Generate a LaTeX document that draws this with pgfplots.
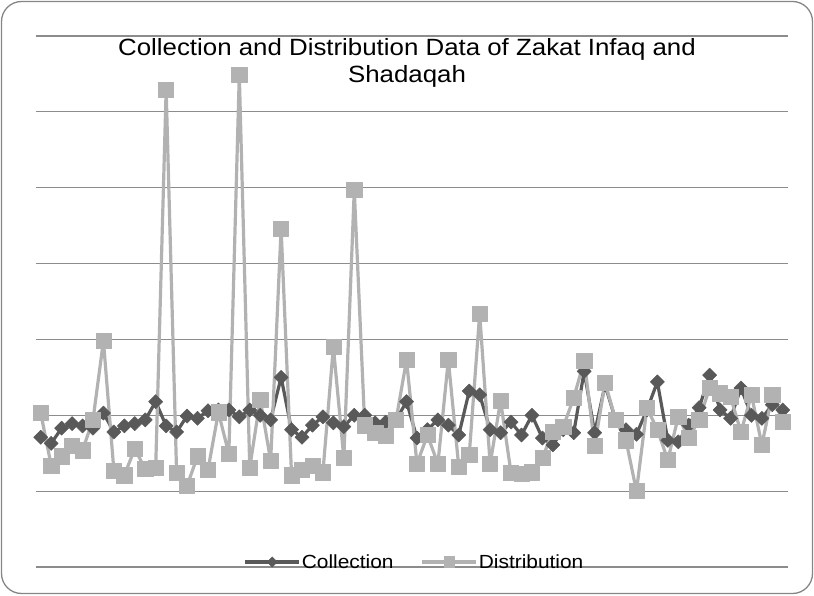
\documentclass[border=0pt]{standalone}
\usepackage{fontspec}
\setmainfont{Liberation Sans}[FakeStretch=1.1]
\usepackage{pgfplots}
\usepackage{pgfplotstable}
\pgfplotsset{compat=1.18}

\definecolor{collect}{RGB}{89,89,89}
\definecolor{distrib}{RGB}{178,178,178}
\definecolor{gridc}{RGB}{140,140,140}
\definecolor{framec}{RGB}{134,134,134}

% grid step = 1 unit, 7 steps (no tick labels in the original)
\pgfplotstableread{
i  col  dist
0  1.71 2.03
1  1.63 1.34
2  1.83 1.46
3  1.89 1.60
4  1.86 1.54
5  1.83 1.94
6  2.03 2.98
7  1.78 1.27
8  1.86 1.21
9  1.89 1.56
10 1.94 1.29
11 2.18 1.31
12 1.86 6.29
13 1.78 1.24
14 1.99 1.07
15 1.96 1.46
16 2.06 1.28
17 2.07 2.04
18 2.07 1.49
19 1.98 6.49
20 2.07 1.31
21 2.00 2.21
22 1.94 1.40
23 2.50 4.46
24 1.81 1.21
25 1.71 1.28
26 1.87 1.33
27 1.98 1.25
28 1.90 2.90
29 1.85 1.44
30 2.00 4.97
31 2.00 1.87
32 1.90 1.77
33 1.91 1.73
34 1.94 1.94
35 2.18 2.73
36 1.70 1.36
37 1.81 1.74
38 1.94 1.36
39 1.87 2.73
40 1.74 1.32
41 2.32 1.48
42 2.27 3.34
43 1.81 1.36
44 1.77 2.19
45 1.91 1.24
46 1.74 1.23
47 2.00 1.25
48 1.70 1.44
49 1.61 1.78
50 1.81 1.85
51 1.77 2.23
52 2.58 2.72
53 1.77 1.60
54 2.40 2.43
55 1.94 1.94
56 1.81 1.67
57 1.75 1.00
58 2.07 2.10
59 2.44 1.81
60 1.67 1.41
61 1.65 1.98
62 1.87 1.70
63 2.10 1.94
64 2.53 2.36
65 2.07 2.29
66 1.96 2.24
67 2.36 1.78
68 2.00 2.27
69 1.96 1.61
70 2.14 2.27
71 2.07 1.91
}\zisdata

\begin{document}
\begin{tikzpicture}
\useasboundingbox (-35.5pt,-28pt) rectangle (778.5pt,567pt);
\draw[framec, line width=1.3pt, rounded corners=20pt] (-34pt,-26.5pt) rectangle (777pt,565.5pt);
\begin{axis}[
  at={(0pt,0pt)}, anchor=south west,
  width=752.5pt, height=531pt, scale only axis,
  xmin=-0.5, xmax=71.5, ymin=0, ymax=7,
  xtick=\empty, ytick={0,...,7}, yticklabels={},
  ymajorgrids, grid style={gridc, line width=1.2pt},
  axis line style={draw=none}, major tick length=0pt,
  legend columns=2,
  legend style={at={(0.503,0.0094)}, anchor=center, draw=none, fill=none,
    font=\fontsize{19}{22}\selectfont, nodes={inner sep=1pt},
    /tikz/every even column/.append style={column sep=26pt}},
  legend image code/.code={\draw[mark repeat=2,mark phase=2,#1,
    every mark/.append style={scale=0.72}]
    plot coordinates {(0pt,0pt) (27pt,0pt) (54pt,0pt)};},
]
\addplot[collect, line width=3.2pt, line join=round, mark=square*, mark size=5pt,
  mark options={rotate=45, solid, line width=0.5pt}]
  table[x=i, y=col] {\zisdata};
\addlegendentry{Collection}
\addplot[distrib, line width=3.2pt, line join=round, mark=square*, mark size=7.6pt,
  mark options={solid, line width=0.5pt}]
  table[x=i, y=dist] {\zisdata};
\addlegendentry{Distribution}
\end{axis}
\node[anchor=base] at (371.5pt,511.5pt) {\fontsize{23.5}{27}\selectfont Collection and Distribution Data of Zakat Infaq and};
\node[anchor=base] at (371.5pt,484pt) {\fontsize{23.5}{27}\selectfont Shadaqah};
\end{tikzpicture}
\end{document}
